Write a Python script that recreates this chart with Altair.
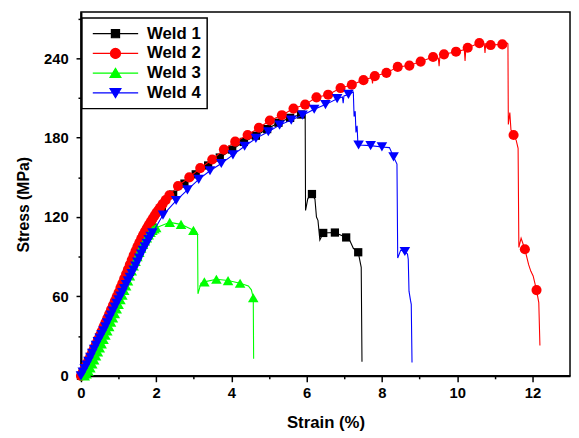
import altair as alt
import pandas as pd

FONT = "Liberation Sans"

welds = ["Weld 1", "Weld 2", "Weld 3", "Weld 4"]
colors = ["#000000", "#ff0000", "#00ff00", "#0000ff"]
shapes = ["square", "circle", "triangle-up", "triangle-down"]
marker_sizes = [70, 105, 115, 115]

# ---- Weld 1 (black squares) ----
w1_mark_strain = [0.0, 0.1, 0.2, 0.3, 0.4, 0.5, 0.6, 0.7, 0.8, 0.9, 1.0, 1.1, 1.2, 1.3, 1.4,
                  1.5, 1.6, 1.7, 1.8, 1.9, 2.15, 2.45, 2.75, 3.05, 3.38, 3.69, 4.02, 4.33,
                  4.65, 4.95, 5.25, 5.56, 5.85, 6.14, 6.44, 6.75, 7.05, 7.37]
w1_mark_stress = [0, 5.5, 11, 17, 23, 29, 35, 41, 47, 53, 59.5, 66, 72, 78.5, 85,
                  91, 97, 102.5, 107.5, 112, 126, 137, 145.3, 152.3, 159, 165, 171, 176.8,
                  181.5, 186.5, 191.3, 195, 197.5, 137.4, 108, 108.3, 104.6, 93.4]
w1_extra_strain = [5.96, 5.97, 6.03, 6.22, 6.26, 6.30, 6.35, 7.15, 7.24, 7.45, 7.47]
w1_extra_stress = [198.5, 125, 134, 133.5, 120, 117.5, 102.6, 102, 96.4, 82, 10.7]

# ---- Weld 2 (red circles) ----
w2_mark_strain = [0.0, 0.05, 0.1, 0.15, 0.2, 0.25, 0.3, 0.35, 0.4, 0.45, 0.5, 0.55, 0.6, 0.65,
                  0.7, 0.75, 0.8, 0.85, 0.9, 0.95, 1.0, 1.05, 1.1, 1.15, 1.2, 1.25, 1.3, 1.35,
                  1.4, 1.45, 1.5, 1.55, 1.6, 1.65, 1.7, 1.75, 1.8, 1.85, 1.9, 1.95, 2.0, 2.05,
                  2.1, 2.17, 2.25, 2.35, 2.58, 2.88, 3.17, 3.49, 3.80,
                  4.10, 4.43, 4.73, 5.02, 5.34, 5.65, 5.96, 6.26, 6.57, 6.90, 7.20, 7.51,
                  7.81, 8.12, 8.42, 8.73, 9.03, 9.36, 9.65, 9.97, 10.28, 10.59, 10.89, 11.20,
                  11.50, 11.80, 12.11]
w2_mark_stress = [0, 3, 6, 9, 12, 15, 18, 21, 24, 27.2, 30.5, 33.7, 37, 40.2,
                  43.5, 46.7, 50, 53.2, 56.5, 59.7, 63, 66.5, 70, 73.5, 77, 80.5, 84, 87.5,
                  91, 94.3, 97.5, 100.5, 103.5, 106.3, 109, 111.5, 114, 116.3, 118.5, 120.8, 123, 125,
                  127, 129.8, 132.8, 136.5, 143.5, 150, 157, 163.5, 171,
                  177, 182, 187.5, 193, 197, 202, 205, 210.5, 212.5, 217.5, 220, 223.5,
                  226.5, 229, 233.5, 234.5, 237.5, 241, 243, 245, 248, 251.5, 250, 250.5,
                  182, 95.7, 64.8]
w2_extra_strain = [7.73, 7.75, 7.77, 9.50, 9.52, 9.54, 10.19, 10.21, 10.23, 10.72, 10.74, 10.76,
                   11.33, 11.35, 11.36, 11.40, 11.43, 11.57, 11.62, 11.64, 11.70, 11.90, 11.96,
                   12.02, 12.17, 12.20]
w2_extra_stress = [225.5, 221, 225.8, 240, 234, 241, 246.5, 238, 246.8, 251, 244, 251,
                   251.5, 251, 190, 199, 186, 178, 172, 97, 104, 84, 79,
                   75.5, 55.4, 23]

# ---- Weld 3 (green up-triangles) ----
w3_mark_strain = [0.1, 0.15, 0.2, 0.25, 0.3, 0.35, 0.4, 0.45, 0.5, 0.55, 0.6, 0.65, 0.7, 0.75,
                  0.8, 0.85, 0.9, 0.95, 1.0, 1.05, 1.1, 1.15, 1.2, 1.25, 1.3, 1.35, 1.4, 1.45,
                  1.5, 1.55, 1.6, 1.65, 1.7, 1.75, 1.8, 1.85, 1.9, 1.95, 2.0,
                  2.36, 2.66, 2.99, 3.28, 3.60, 3.91, 4.23, 4.58]
w3_mark_stress = [0, 1.5, 3.5, 6, 9, 12, 15, 18, 21, 24.2, 27.5, 30.7, 34, 37.2,
                  40.5, 43.7, 47, 50.5, 54, 57.5, 61, 64.5, 68, 71.7, 75.5, 79.2, 83, 86.5,
                  90, 93.3, 96.5, 99.3, 102, 104.3, 106.5, 108.3, 110, 111, 112,
                  116, 114.5, 110, 71, 73, 72, 70, 59]
w3_extra_strain = [3.07, 3.10, 3.11, 3.19, 4.45, 4.53, 4.59]
w3_extra_stress = [109, 106, 62, 70, 68, 65, 13]

# ---- Weld 4 (blue down-triangles) ----
w4_mark_strain = [0.0, 0.05, 0.1, 0.15, 0.2, 0.25, 0.3, 0.35, 0.4, 0.45, 0.5, 0.55, 0.6, 0.65,
                  0.7, 0.75, 0.8, 0.85, 0.9, 0.95, 1.0, 1.05, 1.1, 1.15, 1.2, 1.25, 1.3, 1.35,
                  1.4, 1.45, 1.5, 1.55, 1.6, 1.65, 1.7, 1.75, 1.8, 1.85, 1.9,
                  2.18, 2.53, 2.83, 3.13, 3.43, 3.73, 4.04, 4.35,
                  4.65, 4.98, 5.28, 5.59, 5.89, 6.20, 6.50, 6.81, 7.11, 7.38, 7.70, 8.00,
                  8.31, 8.61]
w4_mark_stress = [0, 2.8, 5.5, 8.2, 11, 14, 17, 20, 23, 25.8, 28.5, 31.2, 34, 37,
                  40, 43, 46, 49, 52, 54.8, 57.5, 60.2, 63, 66, 69, 71.8, 74.5, 77.2,
                  80, 83, 86, 89, 92, 94.8, 97.5, 100.2, 103, 105.5, 108,
                  121.5, 132.5, 140.5, 148.5, 155, 160.5, 167, 173.5,
                  179.5, 184.5, 189.5, 193.3, 197, 201.5, 205, 209.5, 212.7, 174.5, 174, 173,
                  165.5, 94]
w4_extra_strain = [6.95, 6.97, 6.99, 7.24, 7.26, 7.29, 7.31, 7.34, 7.36, 8.20, 8.40, 8.42,
                   8.50, 8.68, 8.70, 8.72, 8.76, 8.78, 8.80]
w4_extra_stress = [210.8, 206, 211.5, 214.5, 196, 200, 184, 189, 176, 172.5, 160, 89,
                   95, 92, 88, 64, 57, 54, 10]

series = [
    (w1_mark_strain, w1_mark_stress, w1_extra_strain, w1_extra_stress),
    (w2_mark_strain, w2_mark_stress, w2_extra_strain, w2_extra_stress),
    (w3_mark_strain, w3_mark_stress, w3_extra_strain, w3_extra_stress),
    (w4_mark_strain, w4_mark_stress, w4_extra_strain, w4_extra_stress),
]

x_enc = alt.X(
    "strain:Q",
    scale=alt.Scale(domain=[0, 13], nice=False, zero=False),
    axis=alt.Axis(
        title="Strain (%)",
        values=list(range(0, 13)),
        labelExpr="datum.value % 2 === 0 ? datum.label : ''",
        tickSize={"condition": {"test": "datum.value % 2 === 1", "value": 3}, "value": 6},
        labelFlush=False,
        labelOverlap=False,
        labelPadding=4,
        titlePadding=14,
        titleFontSize=17,
    ),
)
y_enc = alt.Y(
    "stress:Q",
    scale=alt.Scale(domain=[0, 275], nice=False),
    axis=alt.Axis(
        title="Stress (MPa)",
        values=list(range(0, 271, 30)),
        labelExpr="datum.value % 60 === 0 ? datum.label : ''",
        tickSize={"condition": {"test": "datum.value % 60 !== 0", "value": 3}, "value": 5},
        labelOverlap=False,
        labelPadding=8,
        titlePadding=12,
        titleFontSize=16,
        titleY=195,
    ),
)

layers = []
for name, color, shape, msize, (ms, my, es, ey) in zip(welds, colors, shapes, marker_sizes, series):
    marks = pd.DataFrame({"strain": ms, "stress": my, "weld": name})
    extra = pd.DataFrame({"strain": es, "stress": ey, "weld": name})
    line = pd.concat([marks, extra]).sort_values("strain", kind="stable").reset_index(drop=True)
    line["idx"] = range(len(line))
    layers.append(
        alt.Chart(line).mark_line(color=color, strokeWidth=1.1).encode(
            x=x_enc, y=y_enc, order="idx:Q"
        )
    )
    layers.append(
        alt.Chart(marks).mark_point(
            shape=shape, filled=True, color=color, size=msize, opacity=1, strokeWidth=0
        ).encode(x=x_enc, y=y_enc)
    )

legend_paths = [
    "M-1,0L1,0M-0.18,-0.18L0.18,-0.18L0.18,0.18L-0.18,0.18Z",
    "M-1,0L1,0M-0.22,0A0.22,0.22,0,1,1,0.22,0A0.22,0.22,0,1,1,-0.22,0Z",
    "M-1,0L1,0M0,-0.21L0.24,0.19L-0.24,0.19Z",
    "M-1,0L1,0M0,0.21L0.24,-0.19L-0.24,-0.19Z",
]

leg = alt.Legend(
    title=None,
    orient="none",
    legendX=1,
    legendY=6,
    padding=6,
    symbolOffset=4,
    labelOffset=8,
    clipHeight=20,
    rowPadding=0,
    symbolSize=2116,
    symbolStrokeWidth=1.2,
    labelFont=FONT,
    labelFontSize=17,
    labelFontWeight="bold",
    labelColor="black",
    strokeColor="black",
    fillColor="white",
)

legend_df = pd.DataFrame({"weld": welds})
legend_layer = (
    alt.Chart(legend_df)
    .transform_filter("false")
    .mark_point(filled=True, opacity=1)
    .encode(
        fill=alt.Fill("weld:N", scale=alt.Scale(domain=welds, range=colors), legend=leg),
        stroke=alt.Stroke("weld:N", scale=alt.Scale(domain=welds, range=colors), legend=leg),
        shape=alt.Shape("weld:N", scale=alt.Scale(domain=welds, range=legend_paths), legend=leg),
    )
)
layers.append(legend_layer)

chart = (
    alt.layer(*layers)
    .properties(
        width=496,
        height=369,
        padding={"left": 74, "top": 1, "right": 1, "bottom": 60},
        autosize=alt.AutoSizeParams(type="none"),
        background="white",
    )
    .configure_view(stroke="black", strokeWidth=1.5)
    .configure_axis(
        grid=False,
        domainColor="black",
        domainWidth=2,
        tickColor="black",
        tickWidth=1.5,
        labelColor="black",
        titleColor="black",
        labelFont=FONT,
        titleFont=FONT,
        labelFontSize=15,
        labelFontWeight="bold",
        titleFontWeight="bold",
    )
    .configure_legend(strokeWidth=1.5)
)

chart.save("out.html", embed_options={"renderer": "svg", "actions": False})
